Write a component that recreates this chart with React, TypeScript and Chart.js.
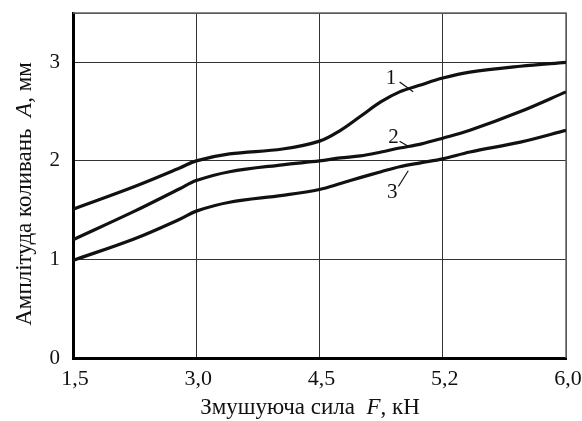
import React, { useEffect, useRef } from "react";
import { Chart, registerables } from "chart.js";

Chart.register(...registerables);

const xTickLabels = ["1,5", "3,0", "4,5", "5,2", "6,0"];
const xPositions = [0, 0.5, 0.87, 1, 1.27, 1.7, 2, 2.17, 2.33, 2.5, 2.65, 2.82, 3, 3.22, 3.63, 4];
const curve1 = [1.51, 1.74, 1.93, 2.0, 2.07, 2.12, 2.2, 2.31, 2.45, 2.6, 2.7, 2.77, 2.84, 2.9, 2.96, 3.0];
const curve2 = [1.2, 1.49, 1.72, 1.8, 1.89, 1.96, 2.0, 2.03, 2.05, 2.09, 2.13, 2.17, 2.23, 2.31, 2.5, 2.7];
const curve3 = [0.99, 1.21, 1.41, 1.49, 1.58, 1.65, 1.71, 1.77, 1.83, 1.89, 1.94, 1.98, 2.02, 2.09, 2.19, 2.31];
const seriesNames = ["1", "2", "3"];
// label anchor (x idx, y value) and leader line start/end in data coords
const labelAt = [
  [2.58, 2.84],
  [2.6, 2.24],
  [2.59, 1.68],
];
const leaderFrom = [
  [2.65, 2.8],
  [2.65, 2.2],
  [2.64, 1.74],
];
const leaderTo = [
  [2.76, 2.7],
  [2.73, 2.14],
  [2.72, 1.9],
];

const FONT = "'Liberation Serif', 'Times New Roman', serif";

function drawRich(ctx: CanvasRenderingContext2D, parts: [string, boolean][], size: number) {
  let total = 0;
  for (const [t, it] of parts) {
    ctx.font = `${it ? "italic " : ""}${size}px ${FONT}`;
    total += ctx.measureText(t).width;
  }
  let x = -total / 2;
  for (const [t, it] of parts) {
    ctx.font = `${it ? "italic " : ""}${size}px ${FONT}`;
    ctx.fillText(t, x, 0);
    x += ctx.measureText(t).width;
  }
}

const annotPlugin = {
  id: "annot",
  beforeDatasetsDraw(chart: any) {
    const ctx = chart.ctx as CanvasRenderingContext2D;
    const a = chart.chartArea;
    ctx.save();
    ctx.strokeStyle = "#666";
    ctx.lineWidth = 1.5;
    ctx.beginPath();
    ctx.moveTo(a.left, a.top);
    ctx.lineTo(a.right, a.top);
    ctx.lineTo(a.right, a.bottom);
    ctx.stroke();
    ctx.restore();
  },
  afterDatasetsDraw(chart: any) {
    const ctx = chart.ctx as CanvasRenderingContext2D;
    const xs = chart.scales.x;
    const ys = chart.scales.y;
    ctx.save();
    ctx.fillStyle = "#111";
    ctx.strokeStyle = "#111";
    ctx.lineWidth = 1.2;
    ctx.textAlign = "center";
    ctx.textBaseline = "middle";
    ctx.font = `21px ${FONT}`;
    for (let i = 0; i < seriesNames.length; i++) {
      ctx.fillText(seriesNames[i], xs.getPixelForValue(labelAt[i][0]), ys.getPixelForValue(labelAt[i][1]));
      ctx.beginPath();
      ctx.moveTo(xs.getPixelForValue(leaderFrom[i][0]), ys.getPixelForValue(leaderFrom[i][1]));
      ctx.lineTo(xs.getPixelForValue(leaderTo[i][0]), ys.getPixelForValue(leaderTo[i][1]));
      ctx.stroke();
    }
    ctx.restore();
  },
  afterDraw(chart: any) {
    const ctx = chart.ctx as CanvasRenderingContext2D;
    ctx.save();
    ctx.fillStyle = "#111";
    ctx.textAlign = "left";
    ctx.textBaseline = "middle";
    ctx.translate(310, 408);
    drawRich(ctx, [["Змушуюча сила  ", false], ["F", true], [", кН", false]], 23);
    ctx.restore();
    ctx.save();
    ctx.fillStyle = "#111";
    ctx.textAlign = "left";
    ctx.textBaseline = "middle";
    ctx.translate(25, 194);
    ctx.rotate(-Math.PI / 2);
    drawRich(ctx, [["Амплітуда коливань  ", false], ["A", true], [", мм", false]], 23);
    ctx.restore();
  },
};

export default function App() {
  const ref = useRef<HTMLCanvasElement>(null);
  useEffect(() => {
    const mk = (vals: number[]) => xPositions.map((x, i) => ({ x, y: vals[i] }));
    const ds = [curve1, curve2, curve3].map((v, i) => ({
      label: seriesNames[i],
      data: mk(v),
      borderColor: "#111",
      borderWidth: 3.2,
      pointRadius: 0,
      tension: 0.35,
      fill: false,
    }));
    const chart = new Chart(ref.current!, {
      type: "line",
      data: { datasets: ds },
      options: {
        animation: false,
        responsive: false,
        layout: { padding: { top: 13, right: 16, left: 0, bottom: 0 } },
        plugins: { legend: { display: false }, tooltip: { enabled: false } },
        scales: {
          x: {
            type: "linear",
            min: 0,
            max: 4,
            ticks: {
              stepSize: 1,
              color: "#111",
              font: { family: FONT, size: 22 },
              padding: 8,
              maxRotation: 0,
              labelOffset: 2,
              callback: (v: any) => (Number.isInteger(v) ? xTickLabels[v] : ""),
            },
            grid: { color: "#333", lineWidth: 1, drawTicks: false },
            border: { color: "#000", width: 3 },
            afterFit: (s: any) => {
              s.height = 63;
              s.paddingLeft = 0;
              s.paddingRight = 0;
            },
          },
          y: {
            min: 0,
            max: 3.5,
            ticks: {
              stepSize: 1,
              color: "#111",
              font: { family: FONT, size: 21 },
              padding: 13,
              callback: (v: any) => (Number.isInteger(v) ? String(v) : ""),
            },
            grid: { color: "#333", lineWidth: 1, drawTicks: false },
            border: { color: "#000", width: 3 },
            afterFit: (s: any) => {
              s.width = 73;
              s.paddingTop = 0;
              s.paddingBottom = 0;
            },
          },
        },
      },
      plugins: [annotPlugin],
    });
    return () => chart.destroy();
  }, []);
  return (
    <div style={{ position: "absolute", left: 0, top: 0, width: 582, height: 421, background: "#fff" }}>
      <canvas ref={ref} width={582} height={421} />
    </div>
  );
}
